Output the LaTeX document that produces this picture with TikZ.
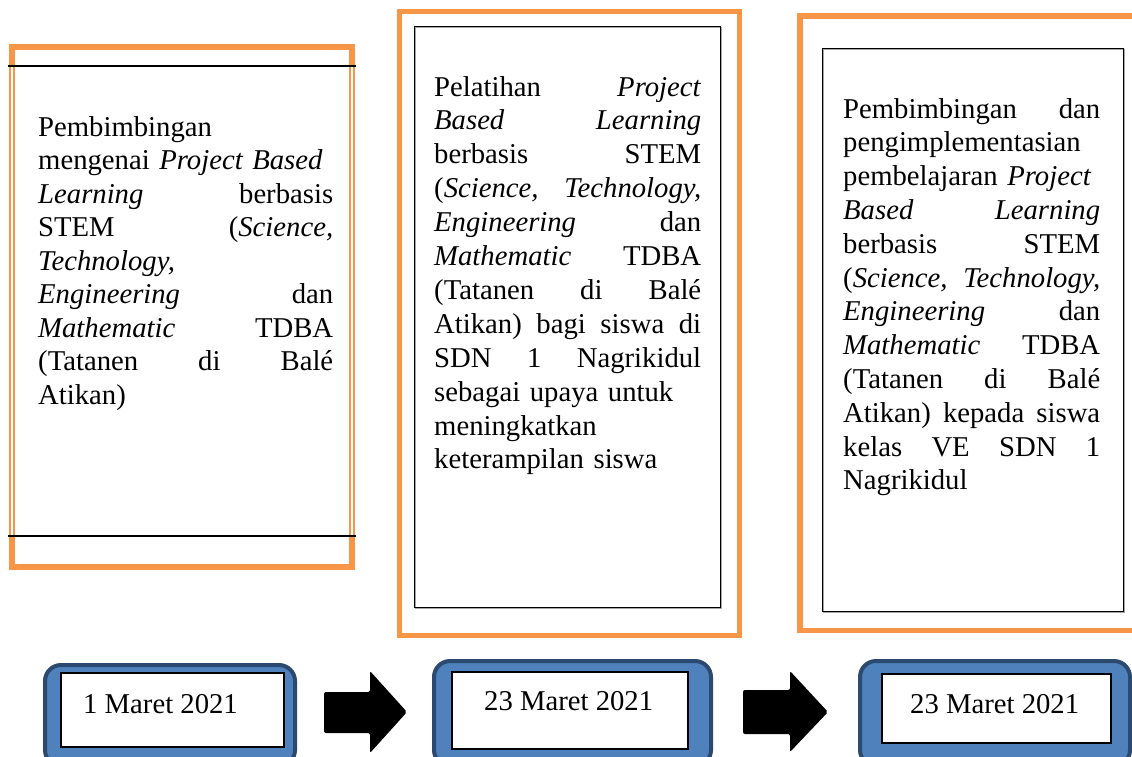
\documentclass[tikz,border=0pt]{standalone}
\usepackage{fontspec}
\setmainfont{Liberation Serif}
\definecolor{orng}{HTML}{F79646}
\definecolor{bfill}{HTML}{4F81BD}
\definecolor{bline}{HTML}{2C4A70}
\begin{document}
\begin{tikzpicture}[x=1pt,y=-1pt,
  frame/.style={draw=orng, line width=5.5pt},
  inbox/.style={draw=black, line width=1pt},
  datebox/.style={draw=bline, fill=bfill, line width=4pt, rounded corners=16pt},
  datein/.style={draw=black, fill=white, line width=1.2pt},
  blockarrow/.style={fill=black, rounded corners=2pt},
  txtA/.style={anchor=base west, inner sep=0pt, align=left, text width=295pt, font=\fontsize{28.7}{33.5}\selectfont},
  txtB/.style={anchor=base west, inner sep=0pt, align=left, text width=267pt, font=\fontsize{28.7}{33.9}\selectfont},
  txtC/.style={anchor=base west, inner sep=0pt, align=left, text width=257pt, font=\fontsize{28.7}{33.8}\selectfont},
  datetxt/.style={anchor=base west, inner sep=0pt, font=\fontsize{28.7}{33}\selectfont}]
\useasboundingbox (0,0) rectangle (1132,756);
\clip (0,0) rectangle (1132,756);
% left box
\draw[frame, line width=6pt] (12,47) rectangle (352,567);
\draw[white, line width=1.4pt] (12,66) -- (12,536) (352,66) -- (352,536);
\draw[black, line width=1.5pt] (8,66) -- (356,66) (8,536) -- (356,536);
% middle box
\draw[frame] (399.5,11.5) rectangle (739.5,635.5);
\draw[black!35, line width=1.2pt] (415.5,27.5) rectangle (721.5,608.5);
\draw[inbox] (414,26) rectangle (720,607);
% right box
\draw[frame] (800,16) rectangle (1150,630.5);
\draw[black!35, line width=1.2pt] (823.5,49.5) rectangle (1124.5,612.5);
\draw[inbox] (822,48) rectangle (1123,611);
% texts
\node[txtA] (t1) at (38,136) {Pembimbingan\\
mengenai \textit{Project Based}\\
\textit{Learning}\hfill berbasis\\
STEM\hfill(\textit{Science,}\\
\textit{Technology,}\\
\textit{Engineering}\hfill dan\hspace{8pt}\\
\textit{Mathematic}\hfill TDBA\\
(Tatanen\hfill di\hfill Balé\\
Atikan)};
\node[txtB] (t2) at (434,96) {Pelatihan\hfill\textit{Project}\\
\textit{Based}\hfill\textit{Learning}\\
berbasis\hfill STEM\\
(\textit{Science,}\hfill\textit{Technology,}\\
\textit{Engineering}\hfill dan\\
\textit{Mathematic}\hfill TDBA\\
(Tatanen\hfill di\hfill Balé\\
Atikan)\hfill bagi\hfill siswa\hfill di\\
SDN\hfill 1\hfill Nagrikidul\\
sebagai upaya untuk\\
meningkatkan\\
keterampilan siswa};
\node[txtC] (t3) at (843,118) {Pembimbingan\hfill dan\\
pengimplementasian\\
pembelajaran \textit{Project}\\
\textit{Based}\hfill\textit{Learning}\\
berbasis\hfill STEM\\
(\textit{Science,}\hfill\textit{Technology,}\\
\textit{Engineering}\hfill dan\\
\textit{Mathematic}\hfill TDBA\\
(Tatanen\hfill di\hfill Balé\\
Atikan)\hfill kepada\hfill siswa\\
kelas\hfill VE\hfill SDN\hfill 1\\
Nagrikidul};
% date boxes
\draw[datebox] (45,665) rectangle (295,766);
\draw[datein] (61,673) rectangle (284,747);
\node[datetxt] (d1) at (83,713) {1 Maret 2021};
\draw[datebox] (434,661) rectangle (711,766);
\draw[datein] (452,672) rectangle (688,749);
\node[datetxt] (d2) at (484,710) {23 Maret 2021};
\draw[datebox] (860,661) rectangle (1130,766);
\draw[datein] (882,674) rectangle (1111,743);
\node[datetxt] (d3) at (910,713) {23 Maret 2021};
% block arrows
\fill[blockarrow] (324,692) -- (370,692) -- (370,671) -- (407,712) -- (370,753) -- (370,733) -- (324,733) -- cycle;
\fill[blockarrow] (743,690) -- (790,690) -- (790,671) -- (828,712) -- (790,752) -- (790,734) -- (743,734) -- cycle;
\end{tikzpicture}
\end{document}
